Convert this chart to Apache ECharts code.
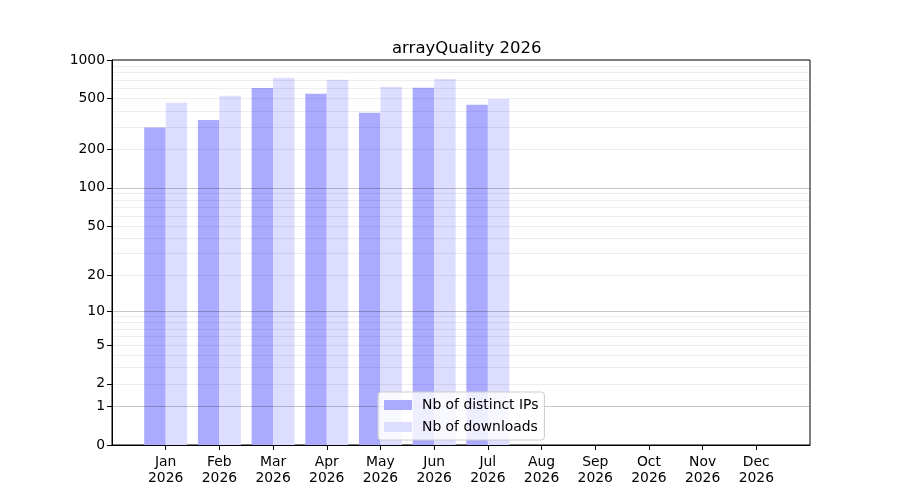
<!DOCTYPE html>
<html>
<head>
  <meta charset="utf-8" />
  <title>arrayQuality 2026</title>
  <script src="https://cdn.jsdelivr.net/npm/echarts@6.0.0/dist/echarts.min.js"></script>
  <style>
    body { margin: 0; background: #fff; }
  </style>
</head>
<body>
  <div id="main" style="width: 900px;height:500px;"></div>
  <script type="text/javascript">
    var myChart = echarts.init(document.getElementById('main'));

    // data
    let months = ['Jan', 'Feb', 'Mar', 'Apr', 'May', 'Jun', 'Jul', 'Aug', 'Sep', 'Oct', 'Nov', 'Dec'];
    let year = '2026';
    let ipValues = [297, 340, 605, 545, 388, 608, 447];
    let dlValues = [463, 525, 726, 700, 618, 712, 497];
    let tickLabels = [0, 1, 2, 5, 10, 20, 50, 100, 200, 500, 1000];
    let majorGrid = [1, 10, 100];
    let minorGrid = [2, 3, 4, 5, 6, 7, 8, 9, 20, 30, 40, 50, 60, 70, 80, 90, 200, 300, 400, 500, 600, 700, 800, 900];

    // y scale is log10(v + 1)
    const tr = v => Math.log10(v + 1);
    const inv = y => Math.round(Math.pow(10, y) - 1);

    // one empty slot each side so the months sit one step in from the frame
    let cats = [''].concat(months.map(m => m + '\n' + year)).concat(['']);
    const pad = arr => [null].concat(arr.map(tr));

    const font = 'DejaVu Sans';
    const yMax = tr(1000);

    const hiddenY = (vals, color) => ({
      type: 'value', min: 0, max: yMax, position: 'left', z: 3,
      axisLine: { show: false },
      axisLabel: { show: false },
      axisTick: { show: false, customValues: vals.map(tr) },
      splitLine: { show: true, lineStyle: { color: color, width: 1 } }
    });

    var option = {
      backgroundColor: '#fff',
      animation: false,
      textStyle: { fontFamily: font },
      title: {
        text: 'arrayQuality ' + year,
        left: 387, top: 35,
        textStyle: { fontFamily: font, fontSize: 16.5, fontWeight: 'normal', color: '#000' }
      },
      grid: {
        left: 112, right: 90, top: 60, bottom: 55,
        show: true, borderColor: '#000', borderWidth: 1, backgroundColor: 'transparent'
      },
      legend: {
        orient: 'vertical',
        left: 378, top: 392,
        itemWidth: 28, itemHeight: 10, itemGap: 8,
        padding: [6, 6, 6, 6],
        backgroundColor: 'rgba(255,255,255,0.8)',
        borderColor: '#cccccc', borderWidth: 1, borderRadius: 3,
        textStyle: { fontFamily: font, fontSize: 13.9, color: '#000', padding: [0, 0, 0, 5] },
        z: 10,
        data: [
          { name: 'Nb of distinct IPs', icon: 'rect' },
          { name: 'Nb of downloads', icon: 'rect' }
        ]
      },
      xAxis: [{
        type: 'category',
        data: cats,
        boundaryGap: false,
        axisLine: { lineStyle: { color: '#000' } },
        axisTick: {
          length: 5, lineStyle: { color: '#000' },
          interval: (i) => i > 0 && i < cats.length - 1
        },
        axisLabel: {
          interval: 0, margin: 9, color: '#000',
          fontFamily: font, fontSize: 13.9, lineHeight: 16
        },
        splitLine: { show: false }
      }],
      yAxis: [{
        type: 'value', min: 0, max: yMax, z: 4,
        axisLine: { show: true, lineStyle: { color: '#000' } },
        axisTick: { show: true, length: 5, lineStyle: { color: '#000' }, customValues: tickLabels.map(tr) },
        axisLabel: {
          customValues: tickLabels.map(tr), margin: 7, color: '#000',
          fontFamily: font, fontSize: 13.9,
          formatter: v => String(inv(v))
        },
        splitLine: { show: false }
      },
        hiddenY(majorGrid, 'rgba(0,0,0,0.22)'),
        hiddenY(minorGrid, 'rgba(0,0,0,0.065)')
      ],
      series: [{
        name: 'Nb of distinct IPs',
        type: 'bar',
        data: pad(ipValues),
        barWidth: '40%',
        barGap: '0%',
        itemStyle: { color: '#aaaaff' }
      }, {
        name: 'Nb of downloads',
        type: 'bar',
        data: pad(dlValues),
        barWidth: '40%',
        barGap: '0%',
        itemStyle: { color: '#ddddff' }
      }]
    };

    myChart.setOption(option);
  </script>
</body>
</html>
